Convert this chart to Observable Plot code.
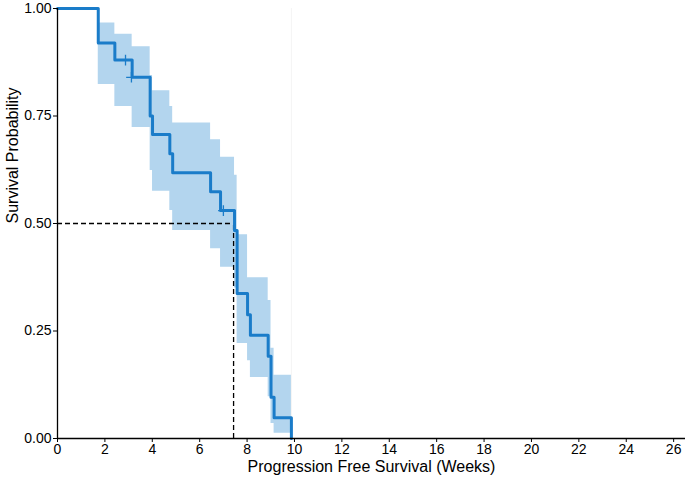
<!DOCTYPE html>
<html>
<head>
<meta charset="utf-8">
<script src="https://cdn.jsdelivr.net/npm/d3@7"></script>
<script src="https://cdn.jsdelivr.net/npm/@observablehq/plot@0.6"></script>
<style>
  html, body { margin: 0; padding: 0; background: #fff; }
  #chart svg { display: block; }
</style>
</head>
<body>
<div id="chart"></div>
<script>
// Kaplan-Meier estimate (weeks)
const times = [0, 1.72, 2.42, 3.15, 3.91, 4.01, 4.74, 4.86, 6.46, 6.88, 7.47, 7.58, 8.02, 8.14, 8.89, 9.01, 9.14, 9.87];
const surv  = [1, 0.92, 0.88, 0.84, 0.75, 0.707, 0.662, 0.618, 0.574, 0.530, 0.484, 0.337, 0.288, 0.240, 0.191, 0.096, 0.048, 0];
const upper = [1, 0.966, 0.940, 0.911, 0.844, 0.809, 0.772, 0.734, 0.695, 0.654, 0.612, 0.474, 0.374, 0.374, 0.321, 0.21, 0.147, 0.147];
const lower = [1, 0.823, 0.772, 0.723, 0.623, 0.575, 0.530, 0.484, 0.441, 0.398, 0.35, 0.221, 0.181, 0.142, 0.097, 0.035, 0.012, 0.012];

// censored observations
const censorTime = [2.87, 3.12, 7.0];
const censorSurv = [0.88, 0.84, 0.53];

// median survival
const medianTime = 7.43;
const medianSurv = 0.5;

const xTicks = [0, 2, 4, 6, 8, 10, 12, 14, 16, 18, 20, 22, 24, 26];
const yTicks = [0, 0.25, 0.5, 0.75, 1];

const xLabel = "Progression Free Survival (Weeks)";
const yLabel = "Survival Probability";

const lineData = times.map((t, i) => ({t, s: surv[i]}));
const ribbonData = times.map((t, i) => ({t, lo: lower[i], hi: upper[i]})).slice(1);

const blue = "#1a7cc9";
const ribbon = "#b3d5ee";
const font = "'Liberation Sans', Arial, Helvetica, sans-serif";

const chart = Plot.plot({
  width: 685,
  height: 479,
  marginLeft: 57,
  marginRight: 0,
  marginTop: 8,
  marginBottom: 41,
  style: {fontFamily: font, fontSize: "14px", color: "#000", background: "#fff"},
  x: {domain: [0, 26.5], axis: null},
  y: {domain: [0, 1], axis: null},
  marks: [
    Plot.ruleX([times[times.length - 1]], {stroke: "#f4f4f4", strokeWidth: 1}),
    Plot.areaY(ribbonData, {x: "t", y1: "lo", y2: "hi", curve: "step-after", fill: ribbon, fillOpacity: 1}),
    Plot.ruleY([medianSurv], {x1: 0, x2: medianTime, stroke: "#000", strokeWidth: 1.3, strokeDasharray: "5,3"}),
    Plot.ruleX([medianTime], {y1: 0, y2: medianSurv, stroke: "#000", strokeWidth: 1.3, strokeDasharray: "5,3"}),
    Plot.line(lineData, {x: "t", y: "s", curve: "step-after", stroke: blue, strokeWidth: 3}),
    Plot.dot(censorTime.map((t, i) => ({t, s: censorSurv[i]})), {x: "t", y: "s", symbol: "plus", r: 3.5, stroke: blue, strokeWidth: 1.3}),
    Plot.axisX({ticks: xTicks, tickSize: 4, tickPadding: 2, tickFormat: d3.format("d"), label: null, fontSize: 14, stroke: "#000"}),
    Plot.axisY({ticks: yTicks, tickSize: 4, tickPadding: 2, tickFormat: d3.format(".2f"), label: null, fontSize: 14, stroke: "#000"}),
    Plot.ruleY([0], {stroke: "#000", strokeWidth: 1.3}),
    Plot.ruleX([0], {y1: 0, y2: 1, stroke: "#000", strokeWidth: 1.3}),
    Plot.text([xLabel], {frameAnchor: "bottom", dy: 28, fontSize: 16, fill: "#000", lineAnchor: "middle"}),
    Plot.text([yLabel], {frameAnchor: "left", dx: -45, rotate: -90, fontSize: 16, fill: "#000", lineAnchor: "middle"})
  ]
});
document.getElementById("chart").appendChild(chart);
</script>
</body>
</html>
